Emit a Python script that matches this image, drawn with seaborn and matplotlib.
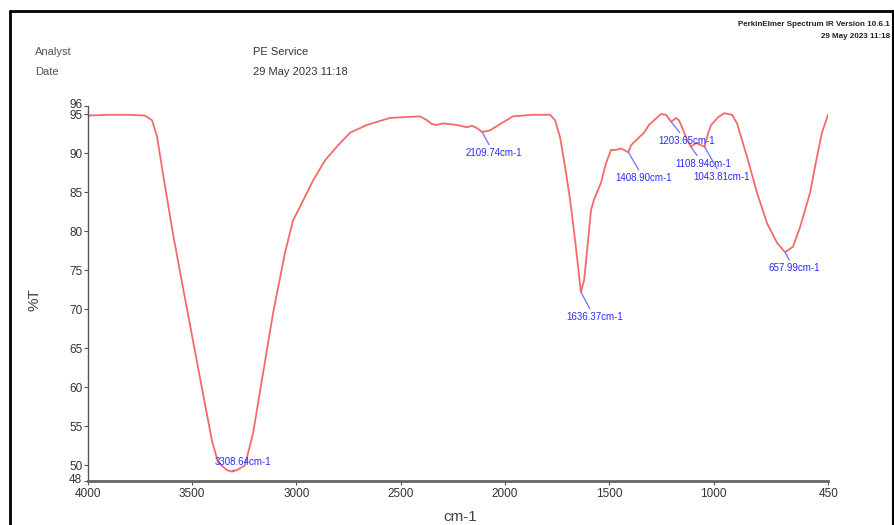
import matplotlib
matplotlib.use("Agg")
import matplotlib.pyplot as plt
from matplotlib.lines import Line2D
from matplotlib.transforms import ScaledTranslation
import seaborn as sns
import pandas as pd

# ---- data ----
wavenumber = [4000, 3900, 3800, 3726, 3692, 3668, 3640, 3592, 3544, 3496, 3448, 3405, 3376, 3333,
              3308.64, 3285, 3247, 3208, 3160, 3112, 3055, 3016, 2983, 2920, 2862, 2800, 2743, 2662,
              2551, 2408, 2374, 2350, 2326, 2298, 2231, 2183, 2159, 2135, 2109.74, 2072, 2024, 1962,
              1866, 1784, 1760, 1736, 1712, 1688, 1664, 1636.37, 1621, 1602, 1588, 1574, 1540, 1516,
              1492, 1468, 1444, 1408.90, 1396, 1362, 1334, 1310, 1252, 1228, 1203.65, 1180, 1166, 1132,
              1108.94, 1084, 1043.81, 1026, 1012, 978, 949, 912, 888, 840, 792, 744, 696, 657.99, 620,
              586, 538, 505, 481, 452]
transmittance = [94.8, 94.9, 94.9, 94.8, 94.2, 92.1, 87.4, 79.7, 72.8, 66.0, 59.2, 53.2, 50.4, 49.4,
                 49.2, 49.4, 50.0, 54.1, 61.8, 69.5, 77.2, 81.4, 83.1, 86.5, 89.1, 91.0, 92.6, 93.6,
                 94.5, 94.7, 94.2, 93.7, 93.6, 93.8, 93.6, 93.3, 93.5, 93.2, 92.7, 92.9, 93.7, 94.7,
                 94.9, 94.9, 94.2, 92.0, 88.2, 84.0, 78.8, 72.2, 73.7, 78.8, 82.7, 84.0, 86.2, 88.7,
                 90.4, 90.4, 90.6, 90.1, 91.0, 91.9, 92.6, 93.6, 95.0, 94.9, 94.0, 94.5, 94.2, 92.0,
                 90.8, 91.3, 90.8, 92.6, 93.6, 94.6, 95.1, 94.9, 93.8, 89.5, 84.9, 81.0, 78.5, 77.3,
                 78.0, 80.5, 84.9, 89.5, 92.6, 94.9]

peak_wn = [3308.64, 2109.74, 1636.37, 1408.90, 1203.65, 1108.94, 1043.81, 657.99]
peak_t = [49.2, 92.7, 72.2, 90.1, 94.0, 90.8, 90.8, 77.3]
peak_labels = ["3308.64cm-1", "2109.74cm-1", "1636.37cm-1", "1408.90cm-1",
               "1203.65cm-1", "1108.94cm-1", "1043.81cm-1", "657.99cm-1"]
# label offsets in pixels (dx, dy downward)
peak_offsets = [(-17, -10), (-17, 21), (-15, 25), (-13, 26), (-13, 19), (-16, 17), (-11, 30), (-17, 16)]

x_ticks = [4000, 3500, 3000, 2500, 2000, 1500, 1000, 450]
y_ticks = [48, 50, 55, 60, 65, 70, 75, 80, 85, 90, 95, 96]

df = pd.DataFrame({"wn": wavenumber, "T": transmittance})

sns.set_theme(style="white")
plt.rcParams["font.family"] = ["Liberation Sans", "DejaVu Sans"]

W, H = 895, 525
fig = plt.figure(figsize=(W / 100, H / 100), dpi=100)
ax = fig.add_axes([87.8 / W, 1 - 481 / H, 740.6 / W, 374.8 / H])

sns.lineplot(data=df, x="wn", y="T", sort=False, color="#f46a6a", linewidth=1.3, ax=ax, legend=False)

ax.set_xlim(4000, 450)
ax.set_ylim(48, 96)
ax.set_xticks(x_ticks)
ax.set_xticklabels([str(v) for v in x_ticks])
ax.set_yticks(y_ticks)
ax.set_yticklabels([str(v) for v in y_ticks])

for s in ["top", "right"]:
    ax.spines[s].set_visible(False)
ax.spines["left"].set_color("#555555")
ax.spines["left"].set_linewidth(1.0)
ax.spines["bottom"].set_color("#666666")
ax.spines["bottom"].set_linewidth(2.0)
ax.tick_params(axis="both", which="major", direction="out", length=3, width=0.8,
               colors="#555555", labelcolor="#333333", labelsize=8.5, pad=1,
               bottom=True, left=True)
ax.tick_params(axis="x", pad=2)
ax.grid(False)
ax.set_facecolor("white")

# nudge the crowded end labels apart, as in the reference
ylabels = ax.get_yticklabels()
ylabels[-1].set_transform(ylabels[-1].get_transform() + ScaledTranslation(0, 3 / 100, fig.dpi_scale_trans))
ylabels[0].set_transform(ylabels[0].get_transform() + ScaledTranslation(0, 2.5 / 100, fig.dpi_scale_trans))

ax.set_xlabel("cm-1", fontsize=11, color="#444444")
ax.set_ylabel("%T", fontsize=11, color="#444444")
ax.xaxis.set_label_coords(0.5026, -0.077)
ax.yaxis.set_label_coords(-0.063, 0.483)

for wn, t, lab, (dx, dy) in zip(peak_wn, peak_t, peak_labels, peak_offsets):
    ax.annotate(lab, xy=(wn, t), xytext=(dx * 0.72, -dy * 0.72), textcoords="offset points",
                fontsize=7, color="#2a2aff", ha="left", va="center",
                arrowprops=dict(arrowstyle="-", color="#6f6fff", lw=0.9, shrinkA=0, shrinkB=0))

# header texts
fig.text(35 / W, 1 - 52 / H, "Analyst", fontsize=8, color="#555555", va="center", ha="left")
fig.text(35 / W, 1 - 72 / H, "Date", fontsize=8, color="#555555", va="center", ha="left")
fig.text(253 / W, 1 - 52 / H, "PE Service", fontsize=8, color="#333333", va="center", ha="left")
fig.text(253 / W, 1 - 72 / H, "29 May 2023 11:18", fontsize=8, color="#333333", va="center", ha="left")
fig.text(890 / W, 1 - 25 / H, "PerkinElmer Spectrum IR Version 10.6.1", fontsize=5.8, color="#222222",
         va="center", ha="right", fontweight="bold")
fig.text(890 / W, 1 - 37 / H, "29 May 2023 11:18", fontsize=5.8, color="#222222",
         va="center", ha="right", fontweight="bold")

# frame lines of the report page
fig.add_artist(Line2D([10 / W, 10 / W], [0, 1 - 11 / H], color="black", lw=2, transform=fig.transFigure))
fig.add_artist(Line2D([10 / W, 1], [1 - 11 / H, 1 - 11 / H], color="black", lw=2, transform=fig.transFigure))
fig.add_artist(Line2D([893 / W, 893 / W], [0, 1 - 11 / H], color="black", lw=1.5, transform=fig.transFigure))

fig.savefig("out.png", dpi=100, facecolor="white")
